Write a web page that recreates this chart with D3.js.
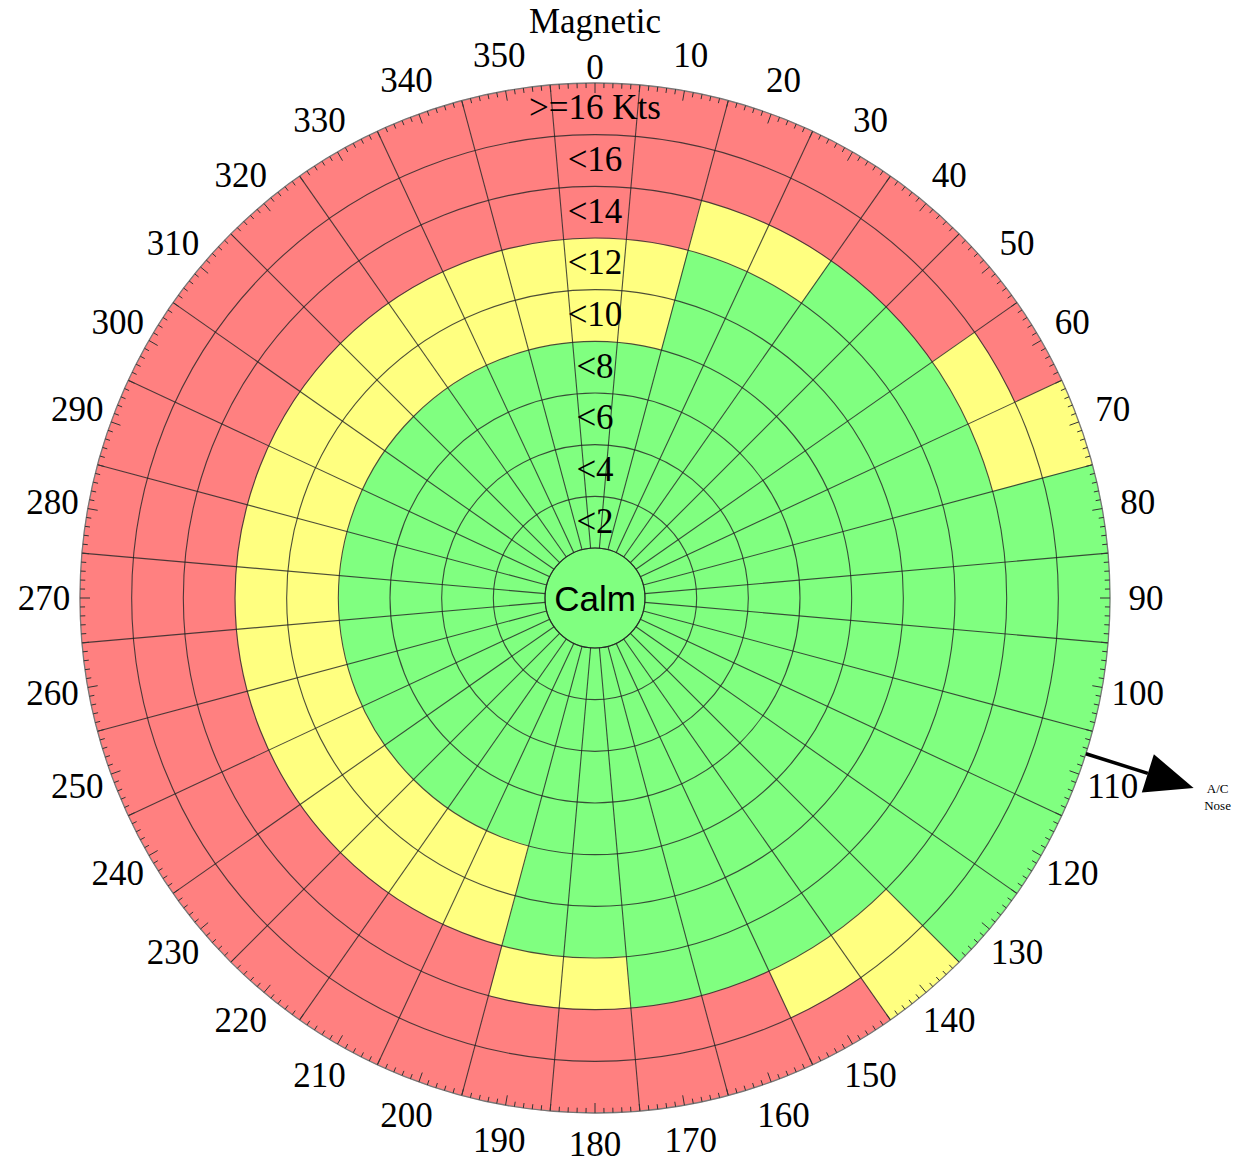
<!DOCTYPE html>
<html><head><meta charset="utf-8">
<script src="https://cdn.jsdelivr.net/npm/d3@7"></script>
<style>body{margin:0;background:#fff}svg{display:block}</style>
</head><body>
<svg id="chart" width="1242" height="1166"></svg>
<script>
// ---- data ----
const directions = [0,10,20,30,40,50,60,70,80,90,100,110,120,130,140,150,160,170,180,190,200,210,220,230,240,250,260,270,280,290,300,310,320,330,340,350];
const directionLabels = ["0","10","20","30","40","50","60","70","80","90","100","110","120","130","140","150","160","170","180","190","200","210","220","230","240","250","260","270","280","290","300","310","320","330","340","350"];
const speedBands = ["<2","<4","<6","<8","<10","<12","<14","<16",">=16 Kts"];
const bandUpper = [2,4,6,8,10,12,14,16,18];
// upper wind speed (kts) still green / still yellow, per direction
const greenLimit  = [8,8,12,12,14,14,14,14,18,18,18,18,18,18,14,14,14,14,12,12,8,8,8,8,8,8,8,8,8,8,8,8,8,8,8,8];
const yellowLimit = [12,12,14,14,14,14,16,18,18,18,18,18,18,18,18,16,14,14,14,14,12,12,12,12,12,12,12,12,12,12,12,12,12,12,12,12];
const noseHeading = 107.6;
const titleText = "Magnetic";
const calmText = "Calm";
const noseText = ["A/C","Nose"];

// ---- layout ----
const cx = 595, cy = 598;
const svg = d3.select("#chart");
const g = svg.append("g").attr("transform", `translate(${cx},${cy})`);

const r = d3.scaleLinear().domain([0, 18]).range([50, 515]);
const ang = d3.scaleLinear().domain([0, 360]).range([0, 2 * Math.PI]);
const color = d3.scaleOrdinal().domain(["green","yellow","red"]).range(["#80ff80","#ffff80","#ff8080"]);
const serif = "'Liberation Serif','Times New Roman',serif";
const pt = (deg, rad) => [rad * Math.sin(ang(deg)), -rad * Math.cos(ang(deg))];

// cells
const cells = [];
directions.forEach((d, i) => {
  bandUpper.forEach((u) => {
    const cat = u <= greenLimit[i] ? "green" : (u <= yellowLimit[i] ? "yellow" : "red");
    cells.push({dir: d, lo: u - 2, hi: u, cat});
  });
});
const arc = d3.arc();
g.append("g").selectAll("path").data(cells).join("path")
  .attr("d", c => arc({innerRadius: r(c.lo), outerRadius: r(c.hi), startAngle: ang(c.dir - 5), endAngle: ang(c.dir + 5)}))
  .attr("fill", c => color(c.cat))
  .attr("stroke", c => color(c.cat)).attr("stroke-width", 0.5);

// calm disc
g.append("circle").attr("r", r(0)).attr("fill", color("green"));

// grid: radial lines
const grid = g.append("g").attr("stroke", "#222").attr("stroke-width", 1.1).attr("stroke-opacity", 0.8).attr("fill", "none");
grid.selectAll("line").data(directions).join("line")
  .attr("x1", d => pt(d + 5, r(0))[0]).attr("y1", d => pt(d + 5, r(0))[1])
  .attr("x2", d => pt(d + 5, r(18))[0]).attr("y2", d => pt(d + 5, r(18))[1]);
// grid: rings
grid.selectAll("circle").data([0].concat(bandUpper.slice(0, -1))).join("circle")
  .attr("r", v => r(v));
g.append("circle").attr("r", r(18)).attr("fill", "none").attr("stroke", "#777").attr("stroke-width", 1.3);

// degree ticks
const tickDeg = d3.range(0, 360, 1);
const tickLen = d => d % 10 === 0 ? 10 : d % 5 === 0 ? 7 : 5;
g.append("g").attr("stroke", "#333").attr("stroke-width", 1).selectAll("line").data(tickDeg).join("line")
  .attr("x1", d => pt(d, r(18) - tickLen(d))[0])
  .attr("y1", d => pt(d, r(18) - tickLen(d))[1])
  .attr("x2", d => pt(d, r(18))[0]).attr("y2", d => pt(d, r(18))[1]);

// direction labels
const labR = d => d === 0 ? r(18) + 16 : (d === 180 ? r(18) + 31 : r(18) + 36);
g.append("g").selectAll("text").data(directions).join("text")
  .attr("x", d => pt(d, labR(d))[0])
  .attr("y", d => pt(d, labR(d))[1])
  .attr("text-anchor", "middle").attr("dominant-baseline", "central")
  .attr("font-family", serif).attr("font-size", 35).attr("fill", "#000")
  .text((d, i) => directionLabels[i]);

// title
g.append("text").attr("x", 0).attr("y", -r(18) - 62)
  .attr("text-anchor", "middle").attr("dominant-baseline", "central")
  .attr("font-family", serif).attr("font-size", 35).text(titleText);

// speed band labels
g.append("g").selectAll("text").data(speedBands).join("text")
  .attr("x", 0).attr("y", (s, j) => -(r(bandUpper[j] - 2) + r(bandUpper[j])) / 2 - 1)
  .attr("text-anchor", "middle").attr("dominant-baseline", "central")
  .attr("font-family", serif).attr("font-size", 35).text(s => s);

// calm label
g.append("circle").attr("r", r(0)).attr("fill", "none").attr("stroke", "#222").attr("stroke-opacity", 0.8).attr("stroke-width", 1.1);
g.append("text").attr("x", 0).attr("y", 0)
  .attr("text-anchor", "middle").attr("dominant-baseline", "central")
  .attr("font-family", "'Liberation Sans',Arial,sans-serif").attr("font-size", 35).text(calmText);

// A/C nose arrow
const base = pt(noseHeading, r(18) + 65);
const start = pt(noseHeading, r(18));
const tip = pt(noseHeading, r(18) + 113);
const perp = [Math.cos(ang(noseHeading)), Math.sin(ang(noseHeading))];
g.append("line").attr("x1", start[0]).attr("y1", start[1]).attr("x2", base[0]).attr("y2", base[1])
  .attr("stroke", "#000").attr("stroke-width", 3.5);
g.append("path")
  .attr("d", `M${tip[0]},${tip[1]}L${base[0] + perp[0] * 20},${base[1] + perp[1] * 20}L${base[0] - perp[0] * 20},${base[1] - perp[1] * 20}Z`)
  .attr("fill", "#000");
g.selectAll("text.nose").data(noseText).join("text").attr("class", "nose")
  .attr("x", tip[0] + 24).attr("y", (t, k) => tip[1] + 5 + k * 17)
  .attr("text-anchor", "middle").attr("font-family", serif).attr("font-size", 13).text(t => t);
</script>
</body></html>
